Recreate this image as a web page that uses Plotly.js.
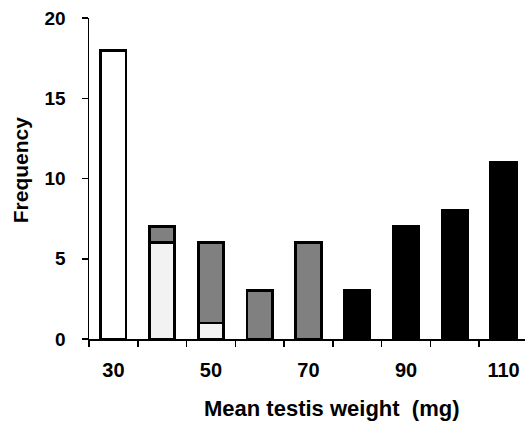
<!DOCTYPE html>
<html>
<head>
<meta charset="utf-8">
<script src="https://cdn.plot.ly/plotly-3.0.1.min.js"></script>
<style>html,body{margin:0;padding:0;background:#fff;}#chart{width:525px;height:428px;}</style>
</head>
<body>
<div id="chart"></div>
<script>
var categories = ["30","40","50","60","70","80","90","100","110"];
var tickLabels = ["30","","50","","70","","90","","110"];
var whiteX = ["30"];
var whiteY = [18];
var lightX = ["40","50"];
var lightY = [6,1];
var grayX = ["40","50","60","70"];
var grayY = [1,5,3,6];
var blackX = ["80","90","100","110"];
var blackY = [3,7,8,11];
var xTitle = "Mean testis weight \u00a0(mg)";
var yTitle = "Frequency";

var font = "Liberation Sans, Arial, sans-serif";
function bar(x, y, color) {
  return {type:"bar", x:x, y:y, width:0.52,
    marker:{color:color, line:{color:"#000", width:2.8}},
    hoverinfo:"skip", showlegend:false};
}
var data = [
  bar(whiteX, whiteY, "#ffffff"),
  bar(lightX, lightY, "#f2f2f2"),
  bar(grayX, grayY, "#808080"),
  bar(blackX, blackY, "#000000")
];
var layout = {
  width:525, height:428,
  margin:{l:89, r:0, t:18, b:89},
  paper_bgcolor:"#ffffff", plot_bgcolor:"#ffffff",
  barmode:"stack", bargap:0.48,
  font:{family:font, color:"#000"},
  xaxis:{type:"category", categoryorder:"array", categoryarray:categories,
    tickvals:categories, ticktext:tickLabels, tickson:"boundaries",
    range:[-0.5, 8.44],
    showline:true, linecolor:"#000", linewidth:1.5,
    ticks:"outside", ticklen:6, tickwidth:1.5, tickcolor:"#000",
    showgrid:false, zeroline:false, ticklabelstandoff:12,
    tickfont:{family:font, size:20, weight:"bold"}},
  yaxis:{range:[0,20], tickvals:[0,5,10,15,20], ticktext:["0","5","10","15","20"],
    showline:true, linecolor:"#000", linewidth:1.5,
    ticks:"outside", ticklen:6, tickwidth:1.5, tickcolor:"#000",
    showgrid:false, zeroline:false, ticklabelstandoff:12,
    tickfont:{family:font, size:19, weight:"bold"}},
  annotations:[
    {text:xTitle, xref:"paper", yref:"paper", x:0.557, y:-0.215,
     xanchor:"center", yanchor:"middle", showarrow:false,
     font:{family:font, size:22, weight:"bold"}},
    {text:yTitle, xref:"paper", yref:"paper", x:-0.158, y:0.526, textangle:-90,
     xanchor:"center", yanchor:"middle", showarrow:false,
     font:{family:font, size:21, weight:"bold"}}
  ]
};
Plotly.newPlot("chart", data, layout, {staticPlot:true, displayModeBar:false});
</script>
</body>
</html>
